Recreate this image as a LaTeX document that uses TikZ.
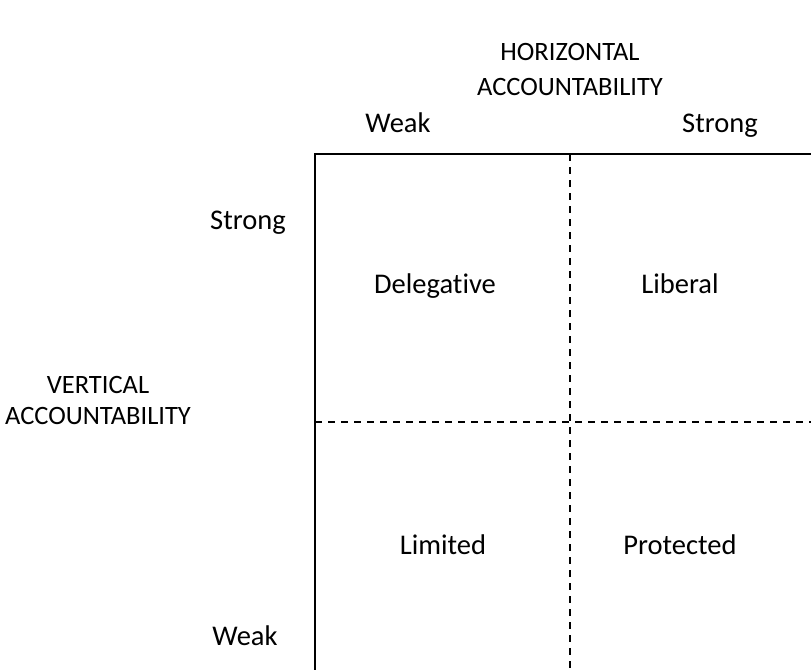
\documentclass[tikz,border=0pt]{standalone}
\usepackage{fontspec}
\setmainfont[Ligatures=NoCommon]{Carlito}
\tikzset{
  axisline/.style={line width=2.2pt},
  divider/.style={line width=2.2pt, dash pattern=on 7pt off 6pt},
  lbl/.style={font=\fontsize{28.5}{35}\selectfont, align=center, inner sep=0pt},
  axislbl/.style={lbl, font=\fontsize{26.5}{35}\selectfont},
  word/.style={lbl, anchor=base}
}

\begin{document}
\begin{tikzpicture}[x=1pt,y=-1pt]
      \useasboundingbox (0,0) rectangle (811,670);

      \coordinate (tl) at (315,154);
      \coordinate (tr) at (811,154);
      \coordinate (bl) at (315,670);
      \coordinate (mt) at (570,154);
      \coordinate (mb) at (570,670);
      \coordinate (ml) at (315,422);
      \coordinate (mr) at (811,422);

      \draw[axisline] (tr) -- (tl) -- (bl);
      \draw[divider] (mt) -- (mb);
      \draw[divider] (ml) -- (mr);

      \node[axislbl] (hacc) at (570,69) {HORIZONTAL\\ACCOUNTABILITY};
      \node[word] (hweak) at (398,132) {Weak};
      \node[word] (hstrong) at (720,132) {Strong};

      \node[axislbl] (vacc) at (98,400) {VERTICAL\\[-4pt]ACCOUNTABILITY};
      \node[word] (vstrong) at (248,229) {Strong};
      \node[word] (vweak) at (245,645) {Weak};

      \node[word] (deleg) at (435,293) {Delegative};
      \node[word] (liberal) at (680,293) {Liberal};
      \node[word] (limited) at (443,554) {Limited};
      \node[word] (protect) at (680,554) {Protected};
    \end{tikzpicture}
\end{document}
